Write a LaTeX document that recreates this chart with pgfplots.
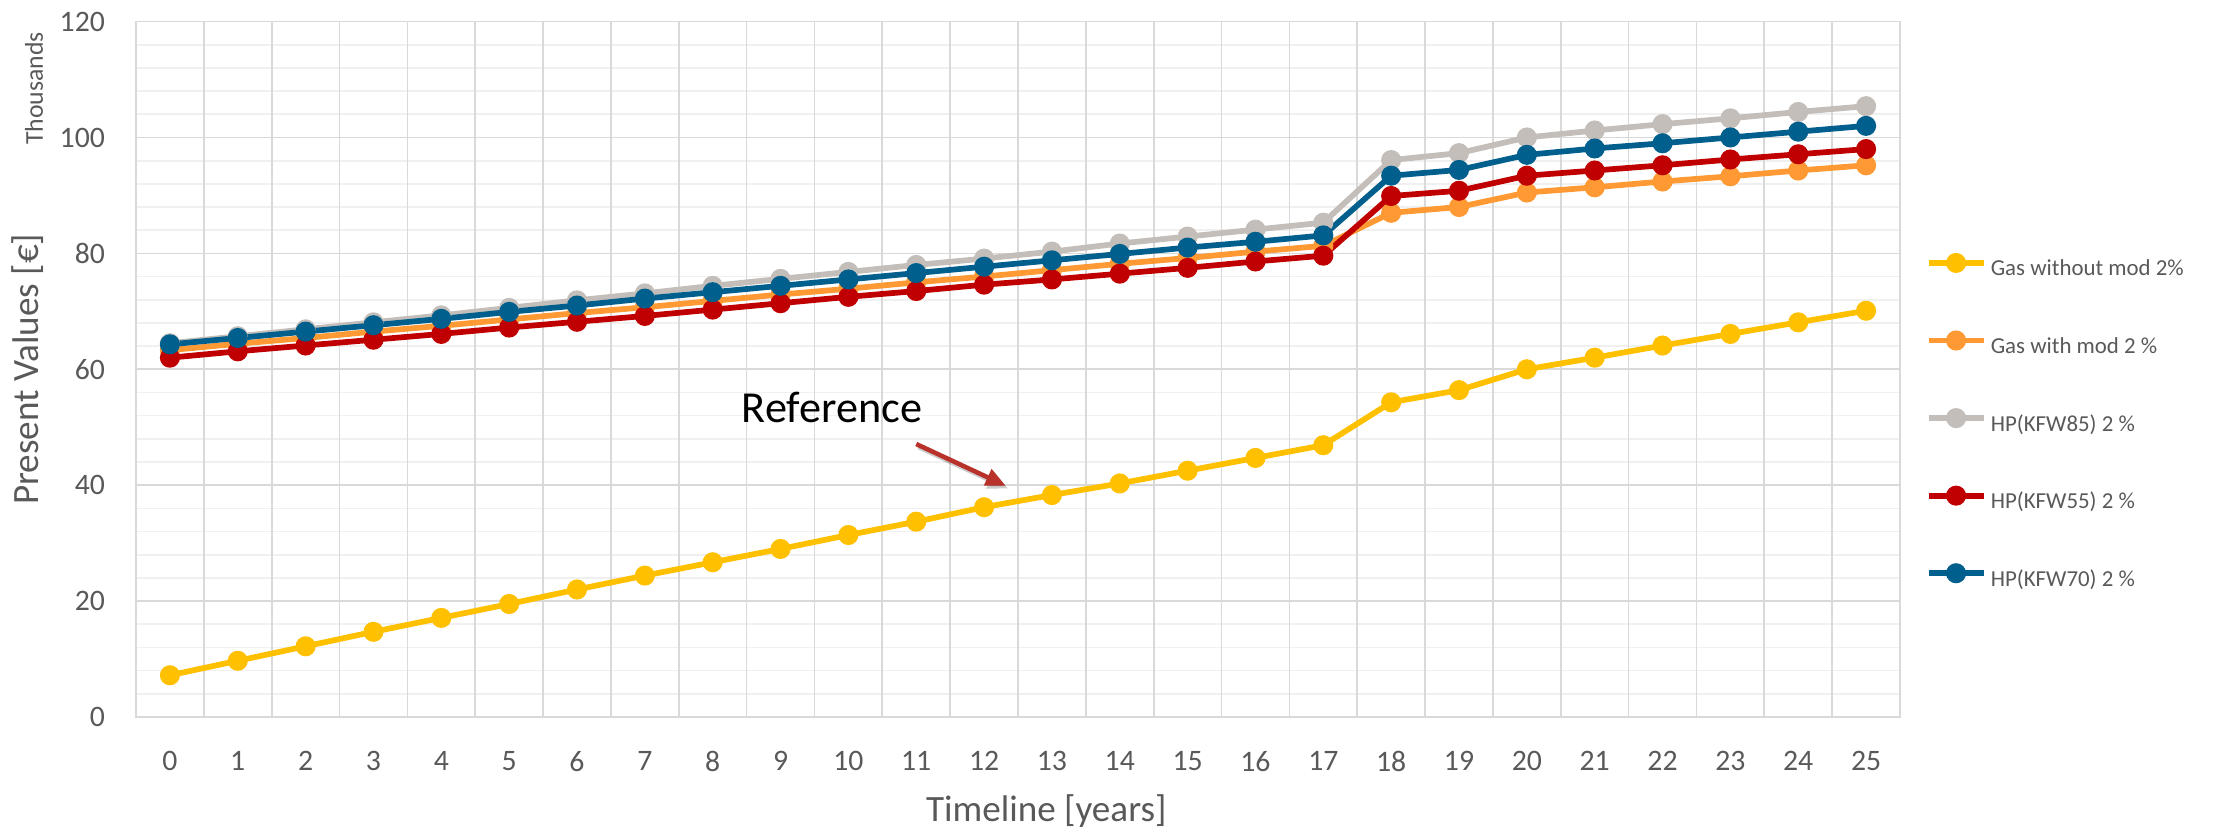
\documentclass[border=0pt]{standalone}
\usepackage{pgfplots}
\usepackage{pgfplotstable}
\pgfplotsset{compat=1.18}
\usepackage{fontspec}
\setmainfont{Carlito}
\usetikzlibrary{arrows.meta}
\definecolor{cYel}{HTML}{FFC000}
\definecolor{cOra}{HTML}{FF9933}
\definecolor{cGry}{HTML}{C3BEB9}
\definecolor{cRed}{HTML}{C00000}
\definecolor{cBlu}{HTML}{005F8D}
\definecolor{cGrid}{HTML}{D9D9D9}
\definecolor{cMinor}{HTML}{F0F0F0}
\definecolor{cTxt}{HTML}{595959}
\definecolor{cArr}{HTML}{B8312A}

\pgfplotstableread{
x  gwo   gw    k85   k55   k70
0  7.2   63.3  64.5  62.0  64.3
1  9.7   64.4  65.7  63.1  65.4
2  12.2  65.4  66.9  64.1  66.5
3  14.7  66.5  68.1  65.1  67.6
4  17.1  67.5  69.3  66.1  68.7
5  19.5  68.6  70.6  67.2  69.9
6  22.0  69.7  71.9  68.2  71.0
7  24.4  70.7  73.1  69.2  72.2
8  26.7  71.8  74.4  70.3  73.3
9  29.0  72.9  75.6  71.4  74.4
10 31.4  73.9  76.8  72.5  75.5
11 33.7  75.0  78.0  73.5  76.6
12 36.2  76.0  79.1  74.6  77.7
13 38.3  77.1  80.3  75.5  78.8
14 40.3  78.2  81.7  76.5  79.9
15 42.5  79.2  82.9  77.5  81.0
16 44.7  80.3  84.1  78.6  82.0
17 46.9  81.3  85.3  79.6  83.1
18 54.3  87.0  96.1  89.9  93.4
19 56.4  88.0  97.3  90.8  94.4
20 60.0  90.5  100.0 93.4  97.0
21 62.0  91.4  101.2 94.3  98.1
22 64.1  92.4  102.3 95.2  99.0
23 66.1  93.3  103.3 96.2  100.0
24 68.1  94.3  104.4 97.1  101.0
25 70.1  95.2  105.4 98.0  102.0
}\datatable

\begin{document}
\begin{tikzpicture}
\begin{axis}[
  at={(0,0)}, anchor=south west,
  width=617.4pt, height=243.4pt, scale only axis,
  clip=false,
  xmin=-0.5, xmax=25.5, ymin=0, ymax=120,
  xtick={0,...,25}, ytick={0,20,...,120},
  minor y tick num=4,
  extra x ticks={0.5,1.5,...,24.5},
  extra x tick labels={},
  extra x tick style={grid=major, major grid style={cGrid, line width=0.6pt}},
  ymajorgrids, yminorgrids,
  major grid style={cGrid, line width=0.6pt},
  minor grid style={cMinor, line width=0.6pt},
  major tick length=0pt, minor tick length=0pt,
  axis line style={cGrid, line width=0.6pt},
  /pgf/number format/assume math mode=true,
  tick label style={font=\fontsize{10.4}{12}\selectfont, text=cTxt},
  xticklabel style={yshift=-8.6pt},
  yticklabel style={xshift=-7.35pt},
  xlabel={Timeline [years]},
  ylabel={Present Values [€]},
  label style={font=\fontsize{13}{15}\selectfont, text=cTxt},
  xlabel style={at={(axis description cs:0.516,-0.1352)}, anchor=center},
  ylabel style={at={(axis description cs:-0.0612,0.5)}, anchor=center},
  every axis plot/.append style={line width=2pt, mark=*, mark size=2.5pt},
  legend image code/.code={\draw[#1, mark repeat=2, mark phase=2] plot coordinates {(0pt,2.3pt) (9.6pt,2.3pt) (19.25pt,2.3pt)};},
  legend style={at={(axis description cs:1.0143,0.664)}, anchor=north west,
    draw=none, fill=none, inner sep=0pt, row sep=18.6pt, column sep=1.5pt,
    font=\fontsize{8}{9.6}\selectfont, text=cTxt,
    nodes={inner sep=0pt, text height=6pt, text depth=1.5pt}},
  legend cell align=left,
]
\addplot[color=cYel, mark options={fill=cYel, draw=cYel, solid}] table[x=x, y=gwo] {\datatable};
\addlegendentry{Gas without mod 2\%}
\addplot[color=cOra, mark options={fill=cOra, draw=cOra, solid}] table[x=x, y=gw] {\datatable};
\addlegendentry{Gas with mod 2 \%}
\addplot[color=cGry, mark options={fill=cGry, draw=cGry, solid}] table[x=x, y=k85] {\datatable};
\addlegendentry{HP(KFW85) 2 \%}
\addplot[color=cRed, mark options={fill=cRed, draw=cRed, solid}] table[x=x, y=k55] {\datatable};
\addlegendentry{HP(KFW55) 2 \%}
\addplot[color=cBlu, mark options={fill=cBlu, draw=cBlu, solid}] table[x=x, y=k70] {\datatable};
\addlegendentry{HP(KFW70) 2 \%}

\node[font=\fontsize{15.5}{18}\selectfont, text=black] at (axis cs:9.76,53.4) {Reference};
\draw[black, opacity=0.2, line width=1.7pt, -{Triangle[length=7pt,width=6pt]}, transform canvas={shift={(0.8pt,-1pt)}}] (axis cs:11.0,47.1) -- (axis cs:12.32,39.9);
\draw[cArr, line width=1.6pt, -{Triangle[length=7pt,width=6pt]}] (axis cs:11.0,47.1) -- (axis cs:12.32,39.9);
\node[rotate=90, font=\fontsize{9}{10}\selectfont, text=cTxt] at (axis description cs:-0.0578,0.904) {Thousands};
\end{axis}
\pgfresetboundingbox
\path[use as bounding box] (-47.6pt,-39.9pt) rectangle (728.35pt,250.95pt);
\end{tikzpicture}
\end{document}
